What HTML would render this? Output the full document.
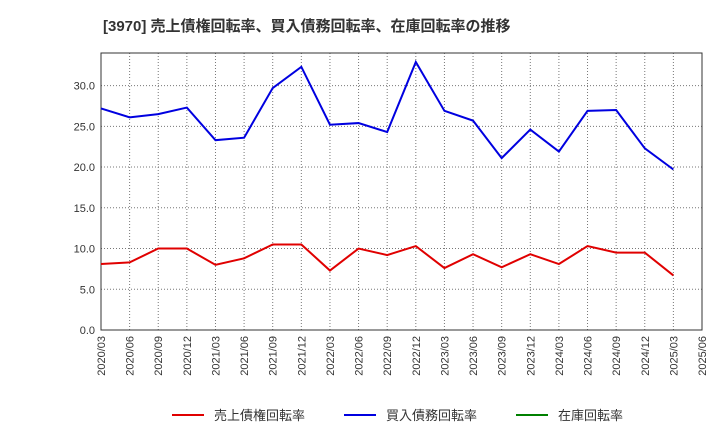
<!DOCTYPE html>
<html><head><meta charset="utf-8"><style>
body{margin:0;background:#fff;font-family:"Liberation Sans","Noto Sans CJK JP",sans-serif;}
</style></head><body>
<svg width="720" height="440" xmlns="http://www.w3.org/2000/svg">
<text x="103" y="31" font-size="15" font-weight="bold" fill="#333" font-family="Liberation Sans, Noto Sans CJK JP, sans-serif">[3970]  売上債権回転率、買入債務回転率、在庫回転率の推移</text>
<g id="grid"></g><g id="axes"></g><g id="series"></g><g id="legend"></g>
</svg>
<script>
const xLabels=["2020/03","2020/06","2020/09","2020/12","2021/03","2021/06","2021/09","2021/12","2022/03","2022/06","2022/09","2022/12","2023/03","2023/06","2023/09","2023/12","2024/03","2024/06","2024/09","2024/12","2025/03","2025/06"];
const yTicks=[0,5,10,15,20,25,30];
const receivable=[8.1,8.3,10.0,10.0,8.0,8.8,10.5,10.5,7.3,10.0,9.2,10.3,7.6,9.3,7.7,9.3,8.1,10.3,9.5,9.5,6.7];
const payable=[27.2,26.1,26.5,27.3,23.3,23.6,29.7,32.3,25.2,25.4,24.3,32.9,26.9,25.7,21.1,24.6,21.9,26.9,27.0,22.3,19.7];
const inventory=[];
const NS="http://www.w3.org/2000/svg";
const L=101,R=702,T=53,B=330,yMax=34;
const xs=i=>L+i*(R-L)/(xLabels.length-1);
const ys=v=>B-v*(B-T)/yMax;
function mk(tag,attrs,parent){const e=document.createElementNS(NS,tag);for(const k in attrs)e.setAttribute(k,attrs[k]);parent.appendChild(e);return e;}
const grid=document.getElementById('grid'),axes=document.getElementById('axes'),ser=document.getElementById('series'),leg=document.getElementById('legend');
xLabels.forEach((l,i)=>{
 const g=mk('line',{x1:xs(i),x2:xs(i),y1:T,y2:B,stroke:'#777','stroke-dasharray':'1,2','stroke-width':1},grid);
 
 
 const t=mk('text',{x:0,y:0,transform:`translate(${xs(i)+4},${B+6}) rotate(-90)`,'text-anchor':'end','font-size':11,fill:'#333'},axes);
 t.textContent=l;
 
 
});
yTicks.forEach(v=>{
 const g=mk('line',{x1:L,x2:R,y1:ys(v),y2:ys(v),stroke:'#777','stroke-dasharray':'1,2','stroke-width':1},grid);
 
 
 const t=mk('text',{x:L-6,y:ys(v)+4,'text-anchor':'end','font-size':11,fill:'#333'},axes);
 t.textContent=v.toFixed(1);
 
 
});
const fr=mk('rect',{x:L,y:T,width:R-L,height:B-T,fill:'none',stroke:'#333','stroke-width':1},axes);


function line(data,color,name){
 if(!data.length)return;
 const p=mk('polyline',{points:data.map((v,i)=>xs(i)+','+ys(v)).join(' '),fill:'none',stroke:color,'stroke-width':2},ser);
 
 
}
line(receivable,'#e00000','receivable-turnover-line');
line(payable,'#0000e0','payable-turnover-line');
line(inventory,'#008000','inventory-turnover-line');
[["売上債権回転率","#e00000",172],["買入債務回転率","#0000e0",344],["在庫回転率","#008000",516]].forEach(([n,c,x])=>{
 const g=mk('g',{},leg);
 
 
 mk('line',{x1:x,x2:x+32,y1:415,y2:415,stroke:c,'stroke-width':2},g);
 const t=mk('text',{x:x+42,y:420,'font-size':13,fill:'#333'},g);
 t.textContent=n;
});
</script>
</body></html>
